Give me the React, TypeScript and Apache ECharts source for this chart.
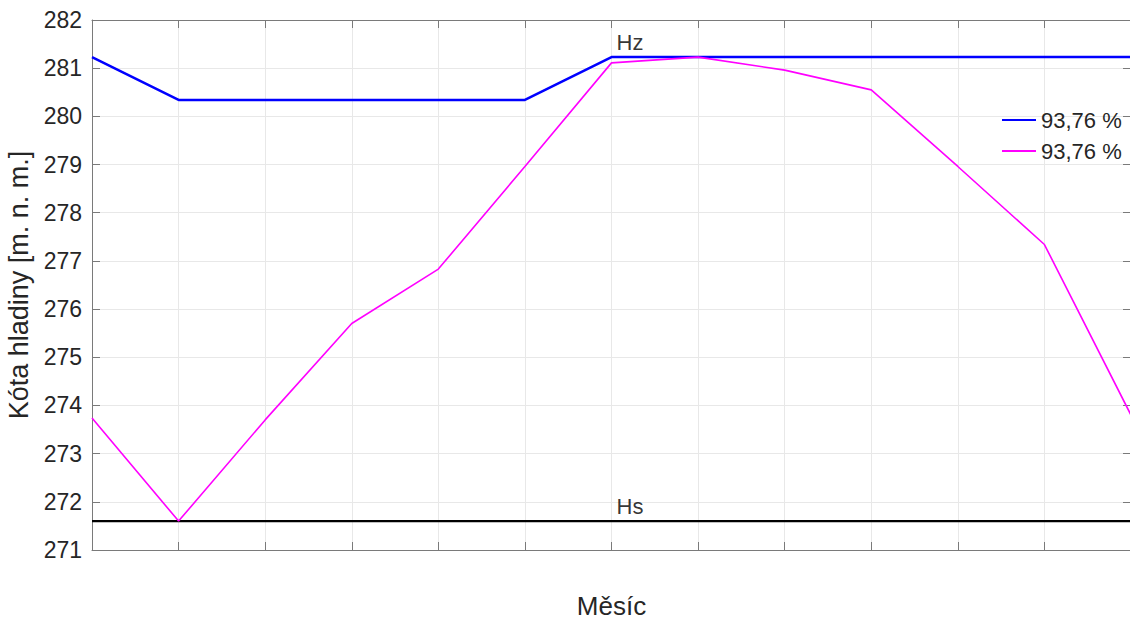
import React, { useEffect, useRef } from "react";
import * as echarts from "echarts";

const months = ["1", "2", "3", "4", "5", "6", "7", "8", "9", "10", "11", "12", "13"];
const hzSeries = [281.23, 280.34, 280.34, 280.34, 280.34, 280.34, 281.23, 281.23, 281.23, 281.23, 281.23, 281.23, 281.23];
const pctSeries = [273.74, 271.6, 273.7, 275.7, 276.83, 278.96, 281.11, 281.23, 280.96, 280.55, 278.96, 277.34, 273.8];
const hsSeries = [271.6, 271.6, 271.6, 271.6, 271.6, 271.6, 271.6, 271.6, 271.6, 271.6, 271.6, 271.6, 271.6];
const legendNames = ["93,76 %", "93,76 % "];
const hzLabel = { name: "Hz", index: 6, value: 281.23 };
const hsLabel = { name: "Hs", index: 6, value: 271.6 };
const yMin = 271;
const yMax = 282;

const FONT = "'Liberation Sans', Arial, sans-serif";
const TXT = "#262626";
const AX = "#7a7a7a";
const GRID = "#e8e8e8";

export default function App() {
  const ref = useRef<HTMLDivElement>(null);
  useEffect(() => {
    if (!ref.current) return;
    const chart = echarts.init(ref.current, undefined, { renderer: "svg" });
    const textLabel = (txt: string) => ({
      show: true,
      formatter: txt,
      position: [5, -26] as any,
      fontFamily: FONT,
      fontSize: 22,
      color: "#000",
    });
    chart.setOption({
      animation: false,
      backgroundColor: "#fff",
      textStyle: { fontFamily: FONT },
      grid: { left: 92, right: -1, top: 20, bottom: 72, containLabel: false, outerBoundsMode: "none" },
      legend: {
        data: legendNames,
        orient: "vertical",
        left: 1002,
        top: 109,
        padding: 0,
        icon: "rect",
        itemWidth: 34,
        itemHeight: 2,
        itemGap: 9,
        formatter: (n: string) => n.trim(),
        textStyle: { fontFamily: FONT, fontSize: 22, color: TXT, lineHeight: 22 },
      },
      xAxis: [
        {
          type: "category",
          data: months,
          boundaryGap: false,
          position: "bottom",
          name: "Měsíc",
          nameLocation: "middle",
          nameGap: 43,
          nameTextStyle: { fontFamily: FONT, fontSize: 26, color: TXT },
          axisLine: { show: true, lineStyle: { color: AX, width: 1 } },
          axisTick: { show: true, inside: true, length: 8, lineStyle: { color: AX } },
          axisLabel: { show: false },
          splitLine: { show: true, lineStyle: { color: GRID, width: 1 } },
        },
        {
          type: "category",
          data: months,
          boundaryGap: false,
          position: "top",
          axisLine: { show: true, lineStyle: { color: AX, width: 1 } },
          axisTick: { show: true, inside: true, length: 8, lineStyle: { color: AX } },
          axisLabel: { show: false },
          splitLine: { show: false },
        },
      ],
      yAxis: [
        {
          type: "value",
          min: yMin,
          max: yMax,
          interval: 1,
          position: "left",
          name: "Kóta hladiny [m. n. m.]",
          nameLocation: "middle",
          nameGap: 58,
          nameTextStyle: { fontFamily: FONT, fontSize: 27, color: TXT },
          axisLine: { show: true, lineStyle: { color: AX, width: 1 } },
          axisTick: { show: true, inside: true, length: 8, lineStyle: { color: AX } },
          axisLabel: { show: true, fontFamily: FONT, fontSize: 23, color: TXT, margin: 10 },
          splitLine: { show: true, lineStyle: { color: GRID, width: 1 } },
        },
        {
          type: "value",
          min: yMin,
          max: yMax,
          interval: 1,
          position: "right",
          axisLine: { show: true, lineStyle: { color: AX, width: 1 } },
          axisTick: { show: true, inside: true, length: 8, lineStyle: { color: AX } },
          axisLabel: { show: false },
          splitLine: { show: false },
        },
      ],
      series: [
        {
          name: "Hs",
          type: "line",
          data: hsSeries,
          symbol: "none",
          lineStyle: { color: "#000", width: 2.2 },
          itemStyle: { color: "#000" },
          z: 2,
        },
        {
          name: legendNames[0],
          type: "line",
          data: hzSeries,
          symbol: "none",
          lineStyle: { color: "#0000ff", width: 2.5 },
          itemStyle: { color: "#0000ff" },
          z: 3,
        },
        {
          name: legendNames[1],
          type: "line",
          data: pctSeries,
          symbol: "none",
          lineStyle: { color: "#ff00ff", width: 1.6 },
          itemStyle: { color: "#ff00ff" },
          z: 4,
        },
        {
          name: "labels",
          type: "scatter",
          symbolSize: 0,
          itemStyle: { color: "transparent" },
          data: [
            { value: [hzLabel.index, hzLabel.value], label: textLabel(hzLabel.name) },
            { value: [hsLabel.index, hsLabel.value], label: textLabel(hsLabel.name) },
          ],
          z: 5,
          silent: true,
        },
      ],
    });
    return () => chart.dispose();
  }, []);
  return (
    <div
      ref={ref}
      style={{ position: "absolute", left: 0, top: 0, width: 1130, height: 622 }}
    />
  );
}
